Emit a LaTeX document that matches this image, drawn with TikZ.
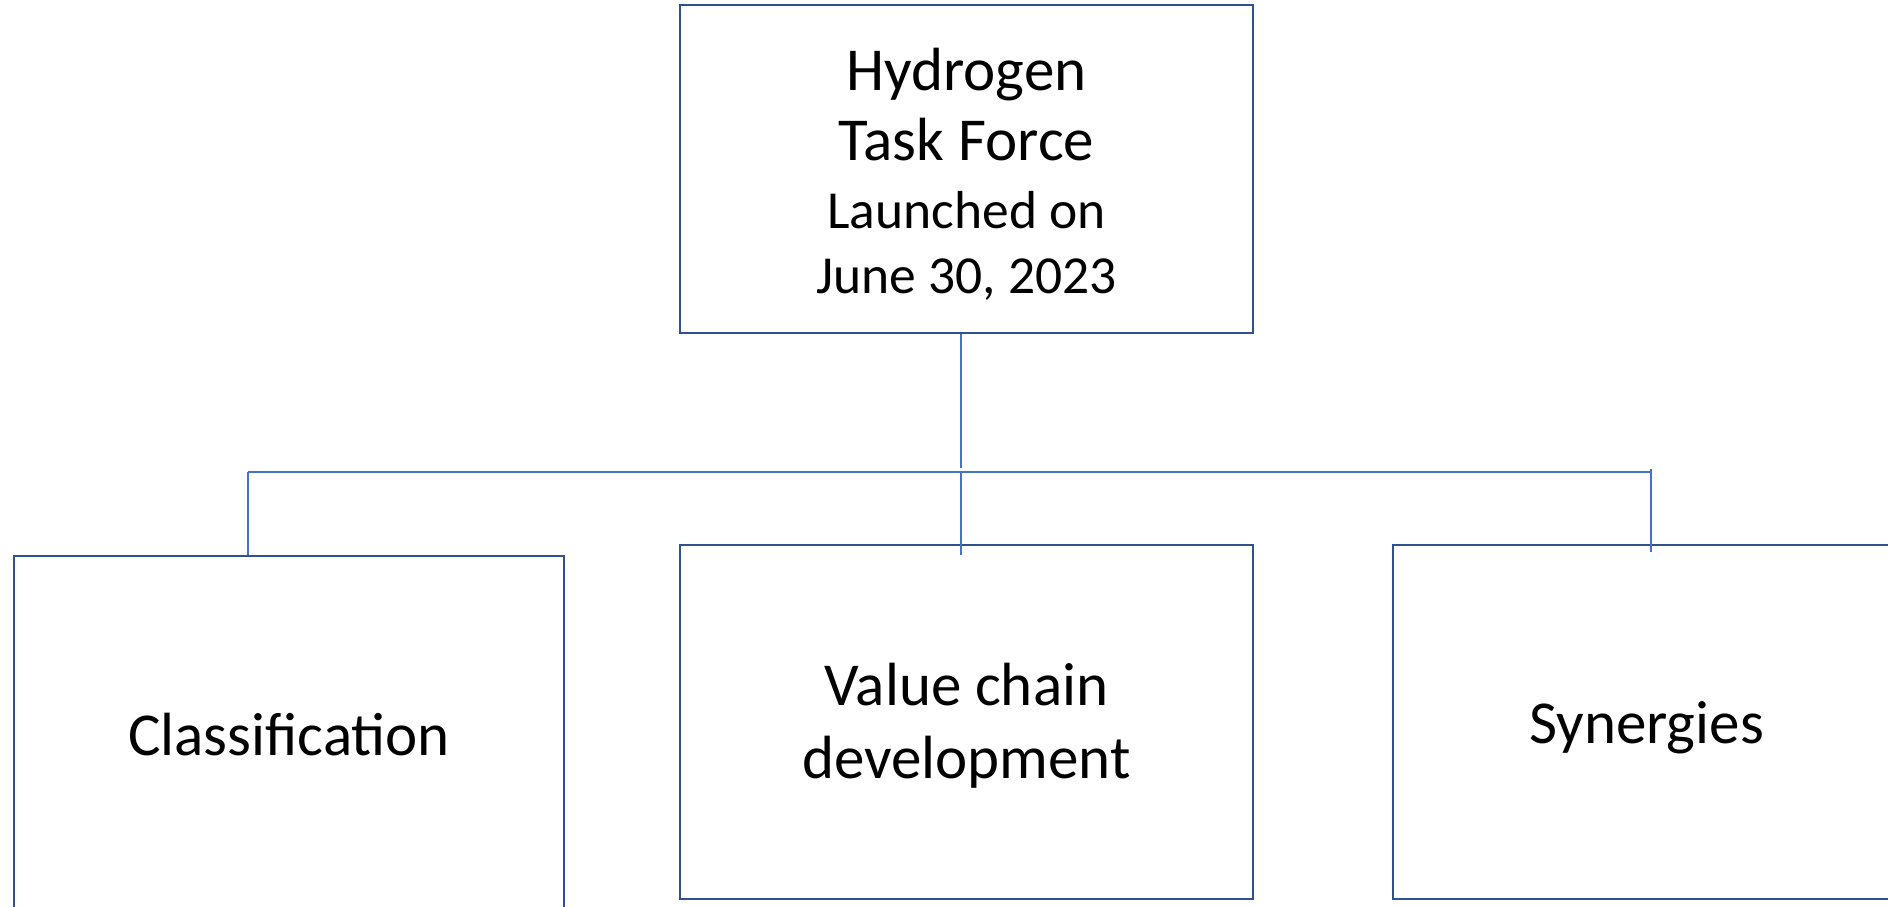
\documentclass[tikz,border=0pt]{standalone}
\usepackage{fontspec}
\setmainfont{Carlito}
\usetikzlibrary{math}
\definecolor{boxblue}{HTML}{2F528F}
\definecolor{lineblue}{HTML}{4472C4}

\begin{document}
\begin{tikzpicture}[x=1pt,y=-1pt,
    box/.style={draw=boxblue, line width=2.5pt, rectangle, inner sep=0pt, align=center,
      text depth=0pt, font=\fontsize{61}{70}\selectfont},
    link/.style={draw=lineblue, line width=1.5pt}]
  \tikzmath{\mx = 966.5; \yrail = 472;}
  \clip (0,0) rectangle (1888,907);
  \node[box, minimum width=573pt, minimum height=328pt, text height=248pt] (task) at (\mx,169)
    {Hydrogen\\Task Force\\[-2pt]\fontsize{53.5}{65}\selectfont Launched on\\[-5pt]\fontsize{53.5}{65}\selectfont June 30, 2023};
  \node[box, minimum width=550pt, minimum height=356pt, text height=42pt] (class) at (289,734) {Classification};
  \node[box, minimum width=573pt, minimum height=354pt, text height=112pt] (chain) at (\mx,722) {Value chain\\[3pt]development};
  \node[box, minimum width=507pt, minimum height=354pt, text height=42pt] (syn) at (1646.5,722) {Synergies};
  % rail between the boxes
  \coordinate (railL) at (248,\yrail);
  \coordinate (railM) at (961,\yrail);
  \coordinate (railR) at (1651,\yrail);
  \draw[link] (task.south -| railM) -- ([yshift=4pt]railM);
  \draw[link] (railL) -- (railR);
  \draw[link] (railL) -- (class.north -| railL);
  \draw[link] (railM) -- ([yshift=-11pt]chain.north -| railM);
  \draw[link] ([yshift=3pt]railR) -- ([yshift=-8pt]syn.north -| railR);
\end{tikzpicture}
\end{document}
